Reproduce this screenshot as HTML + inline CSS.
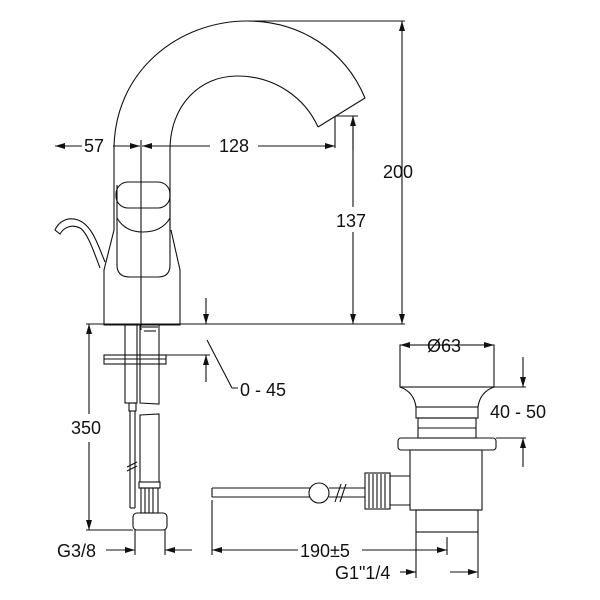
<!DOCTYPE html>
<html><head><meta charset="utf-8"><style>
html,body{margin:0;padding:0;background:#fff}
svg{display:block}
text{font-family:"Liberation Sans",Arial,sans-serif;font-size:18px;fill:#111}
</style></head><body>
<svg width="600" height="600" viewBox="0 0 600 600" xmlns="http://www.w3.org/2000/svg">
<defs>
<marker id="a" viewBox="0 0 10 6" refX="10" refY="3" markerWidth="10" markerHeight="6" orient="auto-start-reverse" markerUnits="userSpaceOnUse"><path d="M0,0L10,3L0,6z" fill="#111"/></marker>
</defs>
<g fill="none" stroke="#111" stroke-width="1.1">
<path d="M114,230 L114,150 C114,70 180,21 247,21 C300,21 345,50 365,98 L318,127"/>
<path d="M170,230 L170,150 C170,105 200,76 237,76 C275,76 305,98 318,127"/>
<path d="M114,230 L104,270 L104,325 L180,325 L180,270 L171,230"/>
<rect x="116" y="182" width="54" height="26" rx="12"/>
<path d="M117,185 L117,265 Q117,277 130,277 L158,277 Q170,277 170,265 L170,190"/>
<path d="M117,218 Q125,232 143,232 Q162,232 170,218"/>
<path d="M105,262 C98,245 92,225 78,220 C66,216 58,223 55,230 L60,234 C64,227 72,224 80,228 C88,233 95,255 100,268"/>
<line x1="141" y1="140" x2="141" y2="330"/>
<line x1="86" y1="324" x2="405" y2="324"/>
<line x1="247" y1="21" x2="405" y2="21"/>
<line x1="402" y1="21" x2="402" y2="324" marker-start="url(#a)" marker-end="url(#a)"/>
<line x1="335" y1="116" x2="358" y2="116"/>
<line x1="335" y1="116" x2="335" y2="148"/>
<line x1="353" y1="116" x2="353" y2="207"/><line x1="353" y1="232" x2="353" y2="324" marker-end="url(#a)"/>
<line x1="353" y1="150" x2="353" y2="116" marker-end="url(#a)"/>
<line x1="55" y1="146" x2="82" y2="146" marker-start="url(#a)"/>
<line x1="113" y1="146" x2="140" y2="146" marker-end="url(#a)"/>
<line x1="142" y1="146" x2="210" y2="146" marker-start="url(#a)"/>
<line x1="258" y1="146" x2="335" y2="146" marker-end="url(#a)"/>
<rect x="125" y="325" width="12" height="78"/>
<rect x="129" y="403" width="7" height="8"/>
<line x1="130" y1="411" x2="130" y2="508"/><line x1="135" y1="411" x2="135" y2="508"/><line x1="130" y1="508" x2="135" y2="508"/>
<path d="M127,467 L137,462 M127,471 L137,466"/>
<path d="M140,325 L140,403 L159,404 L159,325"/>
<line x1="142" y1="327" x2="158" y2="327"/><line x1="144" y1="331" x2="156" y2="331"/>
<path d="M140,415 L159,414 L159,482 L140,482 Z"/>
<rect x="139" y="482" width="21" height="6"/>
<rect x="141" y="488" width="17" height="25"/>
<path d="M145,488 V513 M149,488 V513 M153,488 V513"/>
<rect x="133" y="513" width="34" height="17" rx="4"/>
<rect x="104" y="355" width="62" height="9"/>
<line x1="104" y1="359" x2="166" y2="359"/>
<line x1="166" y1="355" x2="210" y2="355"/>
<line x1="206" y1="298" x2="206" y2="324" marker-end="url(#a)"/>
<line x1="206" y1="382" x2="206" y2="355" marker-end="url(#a)"/>
<path d="M207,340 L232,388 L238,388"/>
<line x1="86" y1="530" x2="133" y2="530"/>
<line x1="89" y1="414" x2="89" y2="324" marker-end="url(#a)"/>
<line x1="89" y1="442" x2="89" y2="530" marker-end="url(#a)"/>
<line x1="135" y1="530" x2="135" y2="555"/><line x1="165" y1="530" x2="165" y2="555"/>
<line x1="106" y1="550" x2="135" y2="550" marker-end="url(#a)"/>
<line x1="192" y1="550" x2="165" y2="550" marker-end="url(#a)"/>
<rect x="400" y="345" width="94" height="42"/>
<path d="M400,387 Q414,392 416,407 L478,407 Q480,392 494,387"/>
<rect x="416" y="407" width="62" height="11"/>
<rect x="418" y="418" width="58" height="20"/>
<line x1="418" y1="428" x2="476" y2="428"/>
<rect x="398" y="438" width="98" height="12" rx="3"/>
<rect x="410" y="450" width="72" height="60"/>
<rect x="416" y="510" width="62" height="22"/>
<line x1="416" y1="532" x2="416" y2="578"/><line x1="478" y1="532" x2="478" y2="578"/>
<path d="M410,476 L390,476 L390,505 L410,505"/>
<rect x="365" y="473" width="25" height="36"/>
<path d="M369,474 V508 M373,474 V508 M377,474 V508 M381,474 V508 M385,474 V508"/>
<path d="M212,488 L310,488 M212,497 L310,497 M212,488 L212,497"/>
<circle cx="319" cy="493" r="10"/>
<path d="M329,488 L365,488 M329,497 L365,497"/>
<path d="M335,502 L341,484 M340,502 L346,484"/>
<line x1="450" y1="345" x2="400" y2="345" marker-end="url(#a)"/>
<line x1="470" y1="345" x2="494" y2="345" marker-end="url(#a)"/>
<line x1="494" y1="387" x2="526" y2="387"/>
<line x1="496" y1="438" x2="526" y2="438"/>
<line x1="523" y1="357" x2="523" y2="387" marker-end="url(#a)"/>
<line x1="523" y1="467" x2="523" y2="438" marker-end="url(#a)"/>
<line x1="212" y1="500" x2="212" y2="555"/><line x1="447" y1="537" x2="447" y2="555"/>
<line x1="212" y1="550" x2="298" y2="550" marker-start="url(#a)"/>
<line x1="362" y1="550" x2="447" y2="550" marker-end="url(#a)"/>
<line x1="400" y1="572" x2="416" y2="572" marker-end="url(#a)"/>
<line x1="450" y1="572" x2="478" y2="572" marker-end="url(#a)"/>
</g>
<g>
<text x="84" y="152">57</text>
<text x="219" y="152">128</text>
<text x="383" y="178">200</text>
<text x="336" y="227">137</text>
<text x="240" y="396">0 - 45</text>
<text x="71" y="434">350</text>
<text x="57" y="557">G3/8</text>
<text x="427" y="352">Ø63</text>
<text x="490" y="418">40 - 50</text>
<text x="300" y="557">190±5</text>
<text x="335" y="579">G1"1/4</text>
</g>
</svg>
</body></html>
